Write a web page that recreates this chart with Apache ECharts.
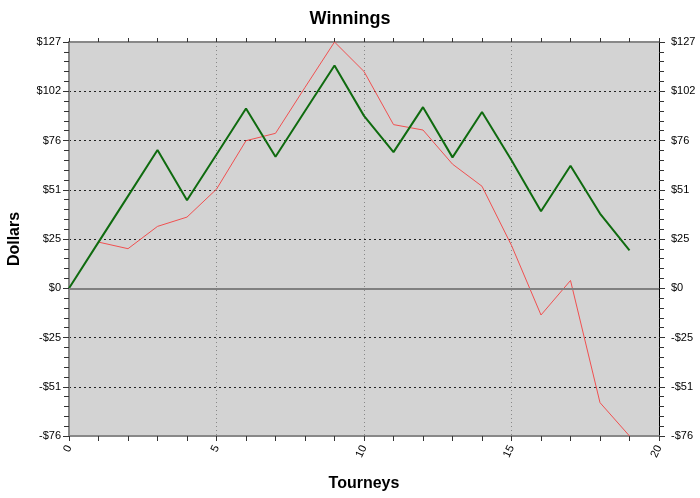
<!DOCTYPE html>
<html>
<head>
<meta charset="utf-8">
<script src="https://cdn.jsdelivr.net/npm/echarts@6/dist/echarts.min.js"></script>
</head>
<body style="margin:0">
<div id="main" style="width:700px;height:498px"></div>
<script>
// tourney index for each series
var greenX = [0,1,2,3,4,5,6,7,8,9,10,11,12,13,14,15,16,17,18,19];
var greenY = [0,23.8,47.5,71.3,45.4,69,92.7,67.8,91.4,114.9,88.9,70.2,93.4,67.5,90.9,66,39.7,63.2,38.5,19.5];
var redX = [1,2,3,4,5,6,7,8,9,10,11,12,13,14,15,16,17,18,19];
var redY = [23.8,20.4,31.9,36.7,51.1,76.1,79.9,103.6,127,111.8,84.4,81.6,64.0,52.6,22.1,-13.8,4.0,-59.0,-76.2];

function pairs(xs, ys) {
    var out = [];
    for (var i = 0; i < xs.length; i++) out.push([xs[i], ys[i]]);
    return out;
}
function money(v) {
    var r = Math.round(v);
    return r < 0 ? '-$' + (-r) : '$' + r;
}

var chart = echarts.init(document.getElementById('main'));
var font = 'Liberation Sans, Arial, sans-serif';
var xBase = {
    type: 'value', min: 0, max: 20, interval: 5,
    axisTick: {show: true, length: 5, lineStyle: {color: '#333'}},
    minorTick: {show: true, splitNumber: 5, length: 5, lineStyle: {color: '#333'}},
    axisLine: {show: true, onZero: false, lineStyle: {color: '#888', width: 2}}
};
var option = {
    backgroundColor: '#fff',
    title: {
        text: 'Winnings', left: 'center', top: 5,
        textStyle: {fontFamily: font, fontSize: 18, fontWeight: 'bold', color: '#000'}
    },
    grid: {
        left: 69, right: 41, top: 42, bottom: 62,
        outerBoundsMode: 'none', containLabel: false,
        show: true, backgroundColor: '#d3d3d3', borderWidth: 0
    },
    xAxis: [
        Object.assign({}, xBase, {
            position: 'bottom',
            name: 'Tourneys', nameLocation: 'middle', nameGap: 40,
            nameTextStyle: {fontFamily: font, fontSize: 16, fontWeight: 'bold', color: '#000'},
            axisLabel: {rotate: 65, fontFamily: font, fontSize: 11, color: '#000', margin: 10},
            splitLine: {show: true, lineStyle: {color: '#888', type: [1, 3], width: 1}}
        }),
        Object.assign({}, xBase, {
            position: 'top',
            axisTick: {show: true, length: 4, inside: false, lineStyle: {color: '#333'}},
            minorTick: {show: true, splitNumber: 5, length: 4, lineStyle: {color: '#333'}},
            axisLabel: {show: false},
            splitLine: {show: false}
        })
    ],
    yAxis: [
        {
            type: 'value', min: -76.2, max: 127, interval: 25.4, position: 'left',
            name: 'Dollars', nameLocation: 'middle', nameGap: 46, nameRotate: 90,
            nameTextStyle: {fontFamily: font, fontSize: 16, fontWeight: 'bold', color: '#000'},
            axisLine: {show: true, onZero: false, lineStyle: {color: '#888', width: 2}},
            axisTick: {show: true, length: 6, lineStyle: {color: '#333'}},
            minorTick: {show: true, splitNumber: 5, length: 5, lineStyle: {color: '#333'}},
            axisLabel: {formatter: money, fontFamily: font, fontSize: 11, color: '#000', margin: 8},
            splitLine: {show: true, lineStyle: {color: '#222', type: [2, 3], width: 1}}
        },
        {
            type: 'value', min: -76.2, max: 127, interval: 25.4, position: 'right',
            axisLine: {show: true, onZero: false, lineStyle: {color: '#000', width: 1}},
            axisTick: {show: true, length: 6, lineStyle: {color: '#333'}},
            minorTick: {show: true, splitNumber: 5, length: 5, lineStyle: {color: '#333'}},
            axisLabel: {formatter: money, fontFamily: font, fontSize: 11, color: '#000', margin: 12},
            splitLine: {show: false}
        }
    ],
    series: [
        {
            type: 'line', data: pairs(redX, redY), symbol: 'none',
            lineStyle: {color: '#f05050', width: 1}, z: 3,
            markLine: {
                silent: true, symbol: 'none', label: {show: false},
                lineStyle: {color: '#808080', type: 'solid', width: 2},
                data: [{yAxis: 0}]
            }
        },
        {
            type: 'line', data: pairs(greenX, greenY), symbol: 'none',
            lineStyle: {color: '#0f6b0f', width: 2}, z: 4
        }
    ],
    animation: false
};
chart.setOption(option);
</script>
</body>
</html>
